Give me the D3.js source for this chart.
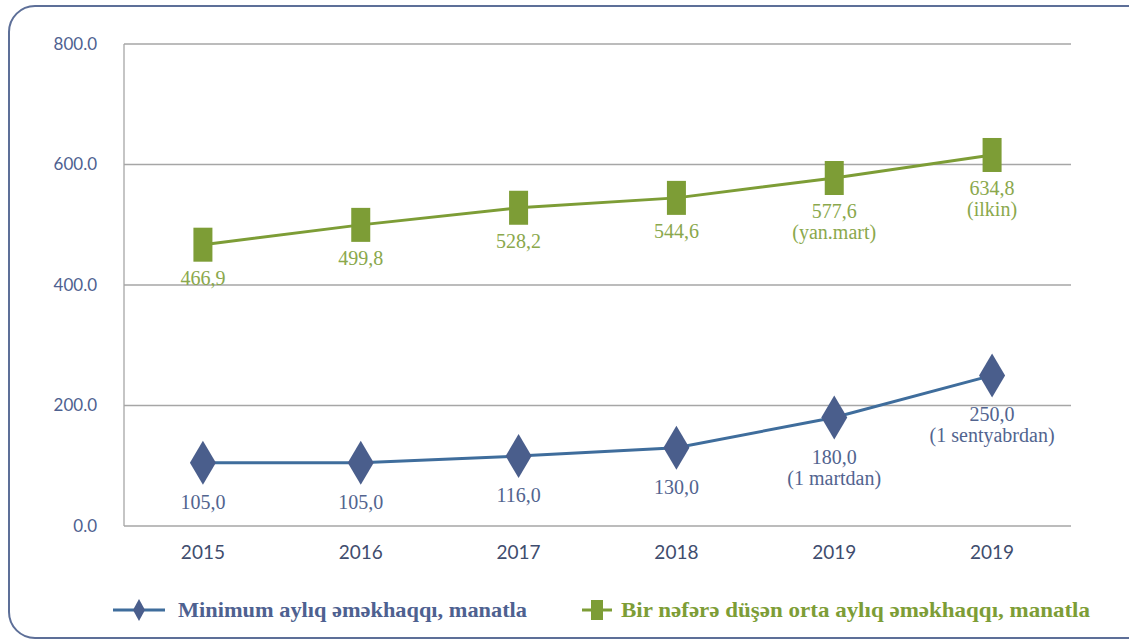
<!DOCTYPE html>
<html><head><meta charset="utf-8">
<script src="https://cdn.jsdelivr.net/npm/d3@7"></script>
<style>body{margin:0;background:#fff}svg{display:block}</style>
</head><body>
<svg id="c" width="1129" height="641"></svg>
<script>
const categories = ["2015","2016","2017","2018","2019","2019"];
const minWage = [105.0,105.0,116.0,130.0,180.0,250.0];
const minWageLabels = [["105,0"],["105,0"],["116,0"],["130,0"],["180,0","(1 martdan)"],["250,0","(1 sentyabrdan)"]];
const avgWage = [466.9,499.8,528.2,544.6,577.6,615.8];
const avgWageLabels = [["466,9"],["499,8"],["528,2"],["544,6"],["577,6","(yan.mart)"],["634,8","(ilkin)"]];
const yTicks = [0,200,400,600,800];
const seriesNames = ["Minimum aylıq əməkhaqqı, manatla","Bir nəfərə düşən orta aylıq əməkhaqqı, manatla"];

(function(){
const svg = d3.select("#c");
const blue = "#4a5e8c", blueLine = "#3f6d9c", green = "#7d9d36", greenText = "#8aa84c";
const pLeft=124,pRight=1071,pTop=44,pBottom=526;

// outer rounded frame
svg.append("rect").attr("x",9).attr("y",6).attr("width",1150).attr("height",632)
  .attr("rx",26).attr("fill","none").attr("stroke","#5d6f98").attr("stroke-width",2);

const x = d3.scaleBand().domain(d3.range(categories.length)).range([pLeft,pRight]);
const y = d3.scaleLinear().domain([0,800]).range([pBottom,pTop]);
const cx = i => x(i)+x.bandwidth()/2;

// gridlines
svg.append("g").selectAll("line").data(yTicks).join("line")
  .attr("x1",pLeft).attr("x2",pRight).attr("y1",d=>y(d)).attr("y2",d=>y(d))
  .attr("stroke","#a6a6a6").attr("stroke-width",1.3);
svg.append("line").attr("x1",pLeft).attr("x2",pLeft).attr("y1",pTop).attr("y2",pBottom)
  .attr("stroke","#a6a6a6").attr("stroke-width",1.3);

// y axis labels
const yAxis = d3.axisLeft(y).tickValues(yTicks).tickFormat(d3.format(".1f")).tickSize(0).tickPadding(27);
const ga = svg.append("g").attr("transform",`translate(${pLeft},0)`).call(yAxis);
ga.select(".domain").remove();
ga.selectAll("text").attr("fill","#4e6190").attr("font-family","Lato, sans-serif").attr("font-size",17);

// x axis labels
const xAxis = d3.axisBottom(x).tickFormat(i=>categories[i]).tickSize(0).tickPadding(20);
const gx = svg.append("g").attr("transform",`translate(0,${pBottom})`).call(xAxis);
gx.select(".domain").remove();
gx.selectAll("text").attr("fill","#3f4d6e").attr("font-family","Lato, sans-serif").attr("font-size",19);

const line = d3.line().x((d,i)=>cx(i)).y(d=>y(d));
svg.append("path").datum(avgWage).attr("d",line).attr("fill","none").attr("stroke",green).attr("stroke-width",3);
svg.append("path").datum(minWage).attr("d",line).attr("fill","none").attr("stroke",blueLine).attr("stroke-width",3);

// green markers
svg.append("g").selectAll("rect").data(avgWage).join("rect")
  .attr("x",(d,i)=>cx(i)-9.5).attr("y",d=>y(d)-17).attr("width",19).attr("height",34).attr("fill",green);
// blue diamonds
svg.append("g").selectAll("path").data(minWage).join("path")
  .attr("d",(d,i)=>{const X=cx(i),Y=y(d);return `M${X},${Y-22}L${X+13},${Y}L${X},${Y+22}L${X-13},${Y}Z`;})
  .attr("fill",blue);

// labels
function labels(vals,labs,color,dy){
  const g = svg.append("g");
  vals.forEach((v,i)=>{
    labs[i].forEach((t,k)=>{
      g.append("text").attr("x",cx(i)).attr("y",y(v)+dy+k*21).attr("text-anchor","middle")
        .attr("font-family","Liberation Serif, serif").attr("font-size",20).attr("fill",color).text(t);
    });
  });
}
labels(avgWage,avgWageLabels,greenText,40);
labels(minWage,minWageLabels,"#52648f",46);

// legend
const lg = svg.append("g");
lg.append("line").attr("x1",113).attr("x2",165).attr("y1",610).attr("y2",610).attr("stroke",blueLine).attr("stroke-width",3);
lg.append("path").attr("d","M139,599L145,610L139,621L133,610Z").attr("fill",blue);
lg.append("text").attr("x",178).attr("y",617).attr("font-family","Liberation Serif, serif").attr("font-weight","bold")
  .attr("font-size",21).attr("fill","#4e6190").attr("textLength",349).attr("lengthAdjust","spacingAndGlyphs").text(seriesNames[0]);
lg.append("line").attr("x1",582).attr("x2",612).attr("y1",610).attr("y2",610).attr("stroke",green).attr("stroke-width",3);
lg.append("rect").attr("x",591).attr("y",600).attr("width",12).attr("height",20).attr("fill",green);
lg.append("text").attr("x",621).attr("y",617).attr("font-family","Liberation Serif, serif").attr("font-weight","bold")
  .attr("font-size",21).attr("fill",green).attr("textLength",469).attr("lengthAdjust","spacingAndGlyphs").text(seriesNames[1]);
})();
</script>
</body></html>
